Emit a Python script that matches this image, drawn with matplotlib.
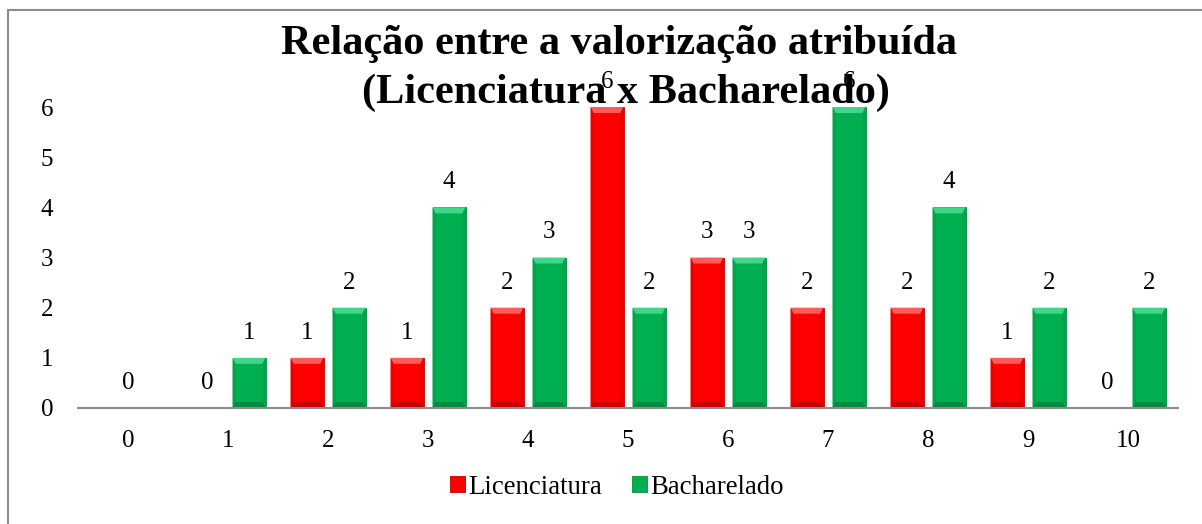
import matplotlib
matplotlib.use('Agg')
import matplotlib.pyplot as plt
import numpy as np
from matplotlib.patches import Rectangle, Polygon

plt.rcParams['font.family'] = ['Liberation Serif', 'DejaVu Serif']

notas = [0, 1, 2, 3, 4, 5, 6, 7, 8, 9, 10]
licenciatura = [0, 0, 1, 1, 2, 6, 3, 2, 2, 1, 0]
bacharelado = [np.nan, 1, 2, 4, 3, 2, 3, 6, 4, 2, 2]

cor_lic = '#FF0000'
cor_bac = '#00B050'
# cores do chanfro: topo, lados, base
chanfro_lic = ('#FF5A5A', '#E80000', '#C80000')
chanfro_bac = ('#3FD68A', '#00A24A', '#008C3F')

fig = plt.figure(figsize=(12.02, 5.24), dpi=100)
ax = fig.add_axes([78 / 1202, 116 / 524, 1100 / 1202, 301 / 524])

x = np.arange(len(notas))
larg = 0.33
off = 0.21


def barras(pos, vals, cor, chanfro, nome):
    ax.bar(pos, vals, larg, color=cor, edgecolor=chanfro[2], linewidth=0.6,
           label=nome, zorder=3)
    dx, dy = 0.03, 0.12
    for p, v in zip(pos, vals):
        if np.isnan(v) or v <= 0:
            continue
        e, d = p - larg / 2, p + larg / 2
        h = min(dy, v / 4)
        ax.add_patch(Polygon([(e, v), (d, v), (d - dx, v - h), (e + dx, v - h)],
                             closed=True, color=chanfro[0], lw=0, zorder=4))
        ax.add_patch(Polygon([(e, 0), (d, 0), (d - dx, h), (e + dx, h)],
                             closed=True, color=chanfro[2], lw=0, zorder=4))
        ax.add_patch(Polygon([(e, 0), (e + dx, h), (e + dx, v - h), (e, v)],
                             closed=True, color=chanfro[1], lw=0, zorder=4))
        ax.add_patch(Polygon([(d, 0), (d - dx, h), (d - dx, v - h), (d, v)],
                             closed=True, color=chanfro[1], lw=0, zorder=4))


barras(x - off, licenciatura, cor_lic, chanfro_lic, 'Licenciatura')
barras(x + off, bacharelado, cor_bac, chanfro_bac, 'Bacharelado')

# rotulos dos valores
for i in range(len(notas)):
    l, b = licenciatura[i], bacharelado[i]
    if np.isnan(b):
        ax.annotate('%d' % l, (x[i], l), xytext=(0, 18), textcoords='offset points',
                    ha='center', va='center', fontsize=18)
        continue
    ax.annotate('%d' % l, (x[i] - off, l), xytext=(0, 18), textcoords='offset points',
                ha='center', va='center', fontsize=18)
    ax.annotate('%d' % b, (x[i] + off, b), xytext=(0, 18), textcoords='offset points',
                ha='center', va='center', fontsize=18)

ax.set_xlim(-0.5, 10.5)
ax.set_ylim(0, 6)
ax.set_xticks(x)
ax.set_xticklabels([str(n) for n in notas])
ax.set_yticks(range(7))
ax.tick_params(axis='x', length=0, pad=16, labelsize=18)
ax.tick_params(axis='y', length=0, pad=18, labelsize=18)
for s in ['top', 'right', 'left']:
    ax.spines[s].set_visible(False)
ax.spines['bottom'].set_color('#8C8C8C')
ax.spines['bottom'].set_linewidth(1.5)
ax.spines['bottom'].set_zorder(5)

fig.text(619 / 1202, 1 - 54 / 524, 'Relação entre a valorização atribuída',
         ha='center', va='baseline', fontsize=30.4, fontweight='bold')
fig.text(626 / 1202, 1 - 103 / 524, '(Licenciatura x Bacharelado)',
         ha='center', va='baseline', fontsize=30.4, fontweight='bold')

fig.legend(loc='center', bbox_to_anchor=(617 / 1202, 1 - 487 / 524), ncol=2,
           frameon=False, fontsize=19.3, handlelength=0.55, handleheight=0.55,
           handletextpad=0.15, columnspacing=1.1)

fig.patches.append(Rectangle((8 / 1202, -0.1), 1.2, 1 - 10 / 524 + 0.1,
                             transform=fig.transFigure, fill=False,
                             edgecolor='#8C8C8C', linewidth=1.5))

fig.savefig('out.png', dpi=100)
